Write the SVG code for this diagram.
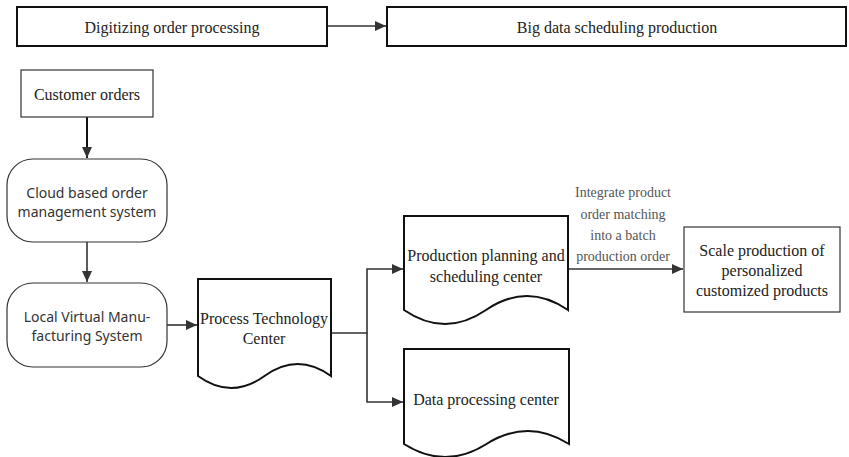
<svg xmlns="http://www.w3.org/2000/svg" width="849" height="457" viewBox="0 0 849 457">
<style>
.serif{font-family:"Liberation Serif","Times New Roman",serif;font-size:16px;fill:#222;text-anchor:middle}
.sans{font-family:"Noto Sans","Open Sans",sans-serif;font-size:14px;fill:#333;text-anchor:middle}
.lbl{font-family:"Liberation Serif","Times New Roman",serif;font-size:14px;fill:#555;text-anchor:middle}
.thick{fill:#fff;stroke:#111;stroke-width:2}
.thin{fill:#fff;stroke:#333;stroke-width:1.2}
.conn{fill:none;stroke:#333;stroke-width:1.6}
</style>
<defs>
<marker id="arr" markerUnits="userSpaceOnUse" markerWidth="12" markerHeight="10" refX="11" refY="5" orient="auto">
<path d="M0,0 L11,5 L0,10 Z" fill="#333"/>
</marker>
</defs>
<rect width="849" height="457" fill="#fff"/>
<g id="connectors">
<path class="conn" d="M327,26 H386" marker-end="url(#arr)"/>
<path class="conn" d="M87,117 V158" marker-end="url(#arr)" style="stroke:#111;stroke-width:2"/>
<path class="conn" d="M87,242 V282" marker-end="url(#arr)"/>
<path class="conn" d="M167,325 H197" marker-end="url(#arr)"/>
<path class="conn" d="M331,333 H367 V269 H403" marker-end="url(#arr)"/>
<path class="conn" d="M367,333 V402 H403" marker-end="url(#arr)"/>
<path class="conn" d="M568,269 H683" marker-end="url(#arr)"/>
<text class="lbl" x="623" y="197">Integrate product</text>
<text class="lbl" x="623" y="219">order matching</text>
<text class="lbl" x="623" y="240">into a batch</text>
<text class="lbl" x="623" y="261">production order</text>
</g>
<g id="digitizing">
<rect class="thick" x="17" y="7" width="310" height="39"/>
<text class="serif" x="172" y="33">Digitizing order processing</text>
</g>
<g id="bigdata">
<rect class="thick" x="387" y="7" width="459" height="39"/>
<text class="serif" x="617" y="33">Big data scheduling production</text>
</g>
<g id="customer">
<rect class="thin" x="21" y="70" width="132" height="47"/>
<text class="serif" x="87" y="100">Customer orders</text>
</g>
<g id="cloud">
<rect class="thin" x="7" y="159" width="160" height="83" rx="26" ry="26"/>
<text class="sans" x="87" y="198">Cloud based order</text>
<text class="sans" x="87" y="217">management system</text>
</g>
<g id="local">
<rect class="thin" x="7" y="283" width="160" height="84" rx="26" ry="26"/>
<text class="sans" x="87" y="322">Local Virtual Manu-</text>
<text class="sans" x="87" y="341">facturing System</text>
</g>
<g id="process">
<path class="thick" d="M198,279 H331 V376 Q297.75,352 264.5,376 T198,376 Z"/>
<text class="serif" x="264" y="324">Process Technology</text>
<text class="serif" x="264" y="344">Center</text>
</g>
<g id="production">
<path class="thick" d="M404,216 H568 V310 Q527,282 486,310 T404,310 Z"/>
<text class="serif" x="486" y="261">Production planning and</text>
<text class="serif" x="486" y="282">scheduling center</text>
</g>
<g id="data">
<path class="thick" d="M404,349 H569 V444 Q527.75,418 486.5,444 T404,444 Z"/>
<text class="serif" x="486" y="405">Data processing center</text>
</g>
<g id="scale">
<rect class="thin" x="684" y="227" width="156" height="85"/>
<text class="serif" x="762" y="256">Scale production of</text>
<text class="serif" x="762" y="276">personalized</text>
<text class="serif" x="762" y="296">customized products</text>
</g>
</svg>
